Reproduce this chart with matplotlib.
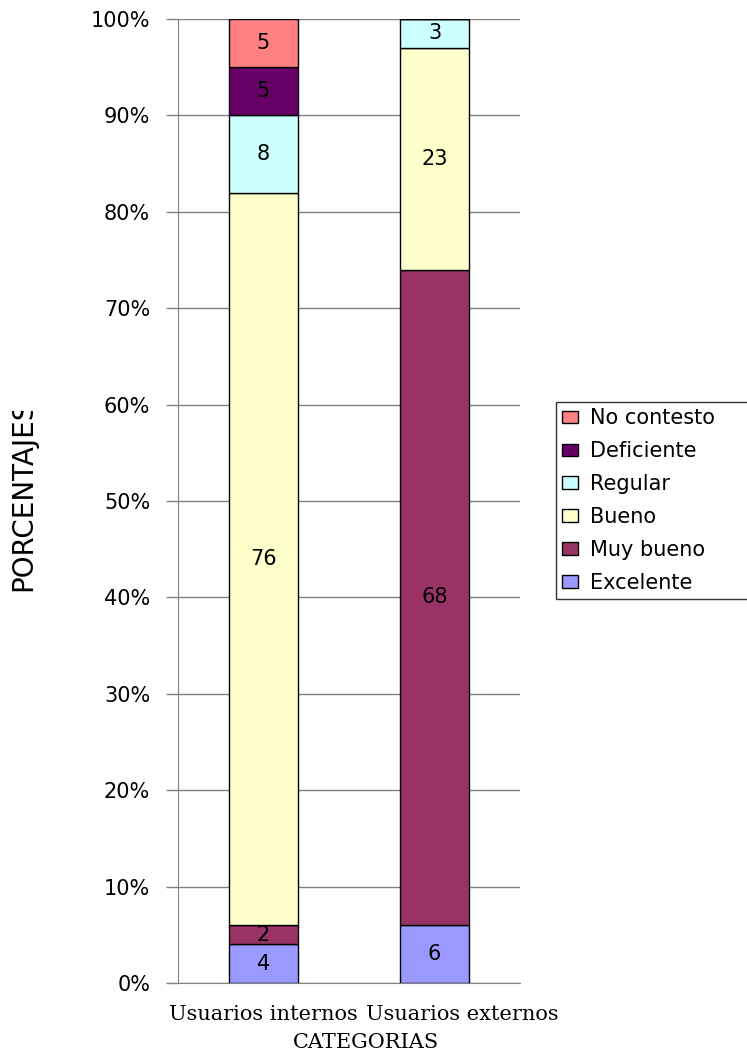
import matplotlib.pyplot as plt
import numpy as np
from matplotlib.transforms import Bbox

# survey results, percent per category
categorias = ['Usuarios internos', 'Usuarios externos']
excelente = [4, 6]
muy_bueno = [2, 68]
bueno = [76, 23]
regular = [8, 3]
deficiente = [5, 0]
no_contesto = [5, 0]

series = [
    ('Excelente', excelente, '#9999FF'),
    ('Muy bueno', muy_bueno, '#993366'),
    ('Bueno', bueno, '#FFFFCC'),
    ('Regular', regular, '#CCFFFF'),
    ('Deficiente', deficiente, '#660066'),
    ('No contesto', no_contesto, '#FF8080'),
]

plt.rcParams['font.family'] = ['DejaVu Sans']

fig = plt.figure(figsize=(7.47, 10.53), dpi=100)
W, H = 747, 1053
ax = fig.add_axes([178 / W, 1 - 983 / H, (520 - 178) / W, (983 - 19) / H])

x = np.arange(len(categorias))
bottom = np.zeros(len(categorias))
handles = []
for name, vals, color in series:
    vals = np.array(vals, dtype=float)
    bars = ax.bar(x, vals, width=0.4, bottom=bottom, color=color,
                  edgecolor='black', linewidth=1, zorder=3, label=name)
    for xi, v, b in zip(x, vals, bottom):
        if v > 0:
            ax.text(xi, b + v / 2, '%d' % v, ha='center', va='center',
                    fontsize=15, color='black', zorder=4)
    handles.append(bars)
    bottom += vals

ax.set_xlim(-0.5, 1.5)
ax.set_ylim(0, 100)
ax.set_yticks(np.arange(0, 101, 10))
ax.set_yticklabels(['%d%%' % v for v in range(0, 101, 10)], fontsize=15)
ax.yaxis.grid(True, color='#808080', linewidth=1, zorder=0)
ax.tick_params(axis='y', length=9, width=1, color='#808080', pad=11)
ax.set_xticks([])

for s in ['top', 'right']:
    ax.spines[s].set_visible(False)
ax.spines['left'].set_color('#808080')
ax.spines['bottom'].set_color('#808080')
ax.spines['bottom'].set_bounds(-0.55, 1.5)

# category names: first centred under its bar, second pushed right so they don't overlap
serif = 'DejaVu Serif'
ax.annotate(categorias[0], xy=(x[0], 0), xycoords=('data', 'axes fraction'),
            xytext=(0, -23), textcoords='offset points',
            ha='center', va='center', fontsize=15, family=serif)
ax.annotate(categorias[1], xy=(x[1], 0), xycoords=('data', 'axes fraction'),
            xytext=(-49, -23), textcoords='offset points',
            ha='left', va='center', fontsize=15, family=serif)
fig.text(366 / W, 1 - 1043 / H, 'CATEGORIAS', ha='center', va='center',
         fontsize=15, family=serif)

# y label, cut off at the top like the original export
ylab = fig.text(23 / W, 1 - 495 / H, 'PORCENTAJES', rotation=90,
                ha='center', va='center', fontsize=20)
ylab.set_clip_box(Bbox([[0, 0], [60, H - 411]]))
ylab.set_clip_on(True)

leg = fig.legend(handles[::-1], [s[0] for s in series][::-1],
                 loc='upper left', mode='expand',
                 bbox_to_anchor=(556 / W, 1 - 602 / H, 210 / W, 200 / H),
                 fontsize=15, frameon=True, fancybox=False,
                 edgecolor='black', handlelength=0.75, handleheight=0.55,
                 handletextpad=0.6, labelspacing=0.62, borderpad=0.3,
                 borderaxespad=0)
leg.get_frame().set_linewidth(1)

fig.savefig('out.png', dpi=100)
